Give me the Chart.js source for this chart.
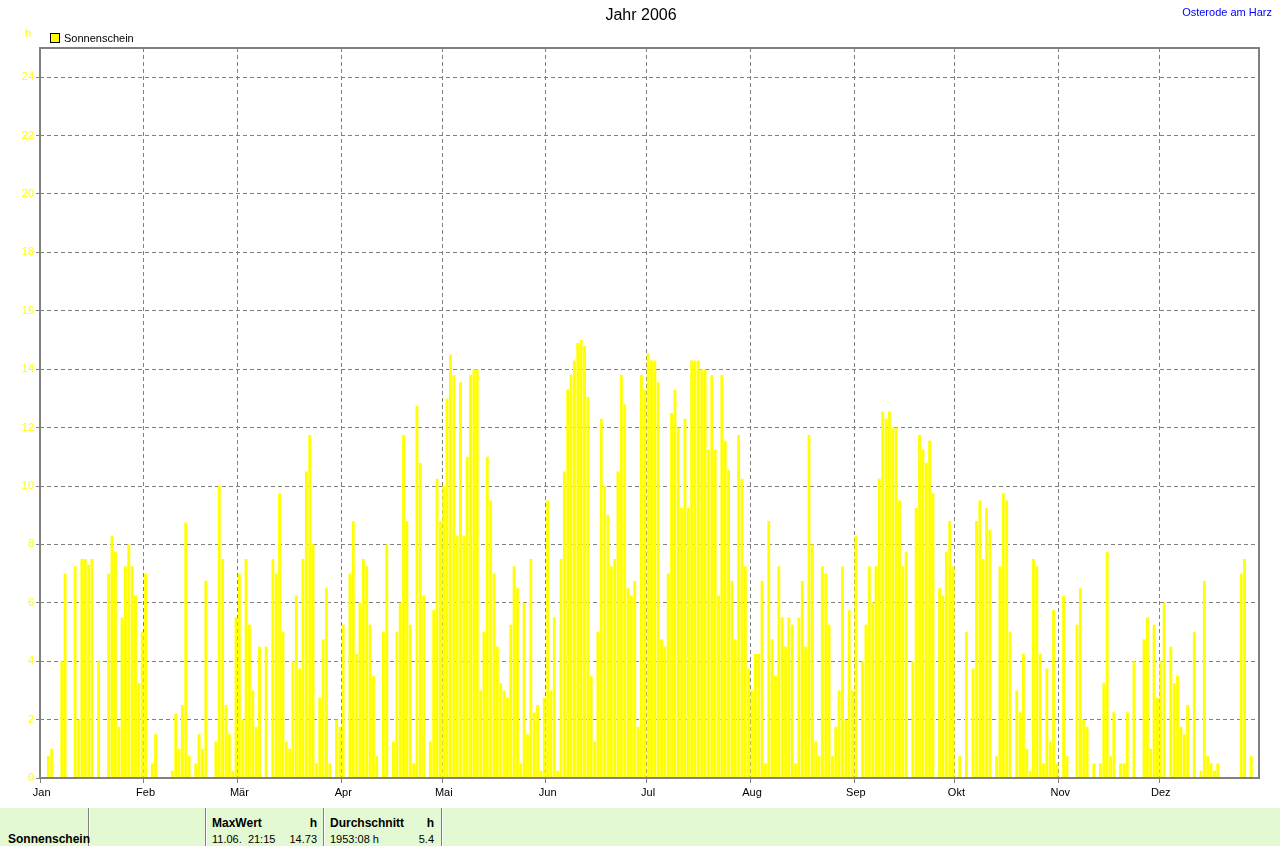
<!DOCTYPE html>
<html>
<head>
<meta charset="utf-8">
<script src="https://cdn.jsdelivr.net/npm/chart.js@4/dist/chart.umd.min.js"></script>
<style>
body{margin:0;background:#fff;font-family:"Liberation Sans",Arial,sans-serif;}
#wrap{position:relative;width:1280px;height:846px;overflow:hidden;background:#fff}
#grafico{position:absolute;left:0;top:0}
.t{position:absolute;white-space:nowrap}
.s11{font-size:11px;line-height:11px}
.b12{font-size:12px;line-height:12px;font-weight:bold}
.r{text-align:right}
#tabelle{position:absolute;left:0;top:808px;width:1280px;height:38px;background:#e3f9d3}
.sep{position:absolute;top:0;width:1px;height:38px;background:#808080;border-right:1px solid #fff}
</style>
</head>
<body>
<div id="wrap">
<canvas id="grafico" width="1280" height="808"></canvas>
<div class="t" style="left:0;width:1282px;text-align:center;top:7px;font-size:16px;line-height:16px">Jahr 2006</div>
<div class="t s11" style="right:8px;top:7px;color:#0000ff">Osterode am Harz</div>
<div class="t s11" style="left:25px;top:28px;color:#ffff00">h</div>
<div class="t" style="left:50px;top:33px;width:8px;height:8px;background:#ffff00;border:1px solid #000"></div>
<div class="t s11" style="left:64px;top:33px">Sonnenschein</div>
<div id="tabelle">
  <div class="sep" style="left:88px"></div>
  <div class="sep" style="left:205px"></div>
  <div class="sep" style="left:323px"></div>
  <div class="sep" style="left:441px"></div>
  <div class="t b12" style="left:8px;top:25px">Sonnenschein</div>
  <div class="t b12" style="left:212px;top:9px">MaxWert</div>
  <div class="t b12 r" style="left:250px;width:67px;top:9px">h</div>
  <div class="t s11" style="left:212px;top:26px">11.06.&nbsp;&nbsp;21:15</div>
  <div class="t s11 r" style="left:250px;width:67px;top:26px">14.73</div>
  <div class="t b12" style="left:330px;top:9px">Durchschnitt</div>
  <div class="t b12 r" style="left:380px;width:54px;top:9px">h</div>
  <div class="t s11" style="left:330px;top:26px">1953:08 h</div>
  <div class="t s11 r" style="left:380px;width:54px;top:26px">5.4</div>
</div>
</div>
<script>
// Sonnenscheindauer 2006 in Stunden, ein Wert pro Tag
const monate=['Jan','Feb','Mär','Apr','Mai','Jun','Jul','Aug','Sep','Okt','Nov','Dez'];
const tageProMonat=[31,28,31,30,31,30,31,31,30,31,30,31];
const yTicks=[0,2,4,6,8,10,12,14,16,18,20,22,24];

const jan=[0,0,0.75,1.0,0,0,4.0,7.0,0,0,7.25,2.0,7.5,7.5,7.3,7.5,0,4.0,0,0,7.0,8.3,7.75,1.75,5.5,7.25,8.0,7.25,6.25,3.25,5.0];
const feb=[7.0,0,0.5,1.5,0,0,0,0,0.25,2.2,1.0,2.5,8.75,0.75,0,0.5,1.5,1.0,6.75,0,0,1.25,10.0,7.5,2.5,1.5,0.25,5.5];
const mar=[7.0,2.0,7.5,5.25,3.0,1.75,4.5,0,4.5,0,7.5,7.0,9.75,5.0,1.25,1.0,4.0,6.25,3.75,7.5,10.5,11.75,8.0,0.5,2.75,4.75,6.5,0.5,0,2.0,1.75];
const apr=[5.25,0,7.0,8.8,4.25,6.0,7.5,7.25,5.25,3.5,0.75,0,5.0,8.0,0,1.25,5.0,6.0,11.75,8.8,5.25,0.5,12.75,10.8,6.25,0,1.25,5.75,10.25,8.8];
const mai=[10.0,13.0,14.5,13.8,8.3,13.55,8.3,11.0,13.8,14.0,14.0,3.0,5.0,11.0,9.5,7.0,4.5,3.25,3.0,2.75,5.25,7.25,6.5,0.5,6.0,1.5,7.5,2.25,2.5,0.25,2.75];
const jun=[9.5,3.0,5.5,0.25,7.5,10.5,13.3,13.8,14.3,14.9,15.0,14.8,13.05,3.5,1.25,5.0,12.3,10.0,9.0,7.25,7.5,10.5,13.8,12.8,6.5,6.25,6.75,1.75,13.8,13.3];
const jul=[14.55,14.3,14.3,13.55,4.75,4.5,7.0,12.5,13.3,12.0,9.25,12.3,9.25,14.3,14.3,14.3,14.0,14.0,11.25,13.8,11.25,6.25,13.8,11.55,10.55,6.75,4.75,11.75,10.25,7.25,3.75];
const aug=[3.0,4.25,4.25,6.75,0.5,8.8,4.75,3.5,7.25,5.5,4.5,5.5,5.25,0.5,5.5,6.75,4.5,11.75,8.0,1.25,0.75,7.25,7.0,5.25,0.75,1.75,3.0,7.25,2.0,5.75,3.0];
const sep=[8.3,0,4.0,5.25,7.25,6.0,7.25,10.25,12.55,12.3,12.55,12.0,12.0,9.5,7.25,7.75,0,4.0,9.25,11.75,11.25,10.8,11.55,9.75,0,6.5,6.25,7.75,8.8,7.25];
const okt=[0,0.75,0,5.0,0,3.75,8.8,9.5,7.5,9.25,8.5,0,0.75,7.25,9.75,9.5,5.0,0,3.0,2.25,4.25,1.0,0.25,7.5,7.25,4.25,0.5,3.75,1.25,5.75,0.5];
const nov=[0,6.25,0.75,0,0,5.25,6.5,2.0,1.75,0,0.5,0,0.5,3.25,7.75,0.75,2.25,0,0.5,0.5,2.25,0,4.0,0,0,4.75,5.5,1.0,5.25,2.75];
const dez=[4.0,6.0,0,4.5,3.25,3.5,1.75,1.5,2.5,0,5.0,0,0.25,6.75,0.75,0.5,0.25,0.5,0,0,0,0,0,0,7.0,7.5,0,0.75,0,0,0];

const sonnenschein=[].concat(jan,feb,mar,apr,mai,jun,jul,aug,sep,okt,nov,dez);

let tage=[];
let monatsAnfang=[];
tageProMonat.forEach((n,m)=>{
    monatsAnfang.push(tage.length);
    for(let d=1;d<=n;d++){
        tage.push(d+'.'+(m+1)+'.');
    }
});

const grau='#808080';
const leer='rgba(0,0,0,0)';
const schrift={family:'"Liberation Sans", Arial, sans-serif',size:11};

// Rahmen: die Achse endet am 31.12. 00:00, also knapp vor dem letzten Tag
const rahmen={
    id:'rahmen',
    afterDatasetsDraw(chart){
        const {ctx,chartArea:a}=chart;
        const rechts=a.right-4;
        ctx.save();
        ctx.fillStyle='#fff';
        ctx.fillRect(rechts,a.top-1,a.right-rechts+2,a.bottom-a.top+2);
        ctx.strokeStyle=grau;
        ctx.lineWidth=2;
        ctx.strokeRect(a.left,a.top,rechts-a.left,a.bottom-a.top);
        ctx.restore();
    }
};

let ctx=document.getElementById("grafico");
new Chart(ctx,{
    type:'bar',
    data:{
        labels:tage,
        datasets:[{
            label:'Sonnenschein',
            data:sonnenschein,
            backgroundColor:'#ffff00',
            borderWidth:0,
            barPercentage:0.86,
            categoryPercentage:1
        }]
    },
    options:{
        responsive:false,
        animation:false,
        devicePixelRatio:1,
        layout:{padding:{top:48,right:17,left:0,bottom:0}},
        plugins:{
            legend:{display:false},
            title:{display:false},
            tooltip:{enabled:false}
        },
        scales:{
            x:{
                grid:{
                    offset:true,
                    color:c=>(c.index>0 && monatsAnfang.includes(c.index))?grau:leer,
                    tickColor:c=>monatsAnfang.includes(c.index)?grau:leer,
                    tickLength:5,
                    lineWidth:1
                },
                border:{display:false,dash:[4,3]},
                ticks:{
                    autoSkip:false,
                    maxRotation:0,
                    minRotation:0,
                    padding:3,
                    color:'#000',
                    font:schrift,
                    callback:(v,i)=>{
                        const m=monatsAnfang.indexOf(i);
                        return m>=0?monate[m]:'';
                    }
                },
                afterFit:s=>{s.height=30}
            },
            y:{
                min:0,
                max:25,
                afterBuildTicks:a=>{a.ticks=yTicks.map(v=>({value:v}))},
                grid:{
                    color:c=>(c.tick && c.tick.value===0)?leer:grau,
                    tickColor:grau,
                    tickLength:4,
                    lineWidth:1
                },
                border:{display:false,dash:[4,3]},
                ticks:{color:'#ffff00',padding:2,font:schrift},
                afterFit:s=>{s.width=40}
            }
        }
    },
    plugins:[rahmen]
});
</script>
</body>
</html>
